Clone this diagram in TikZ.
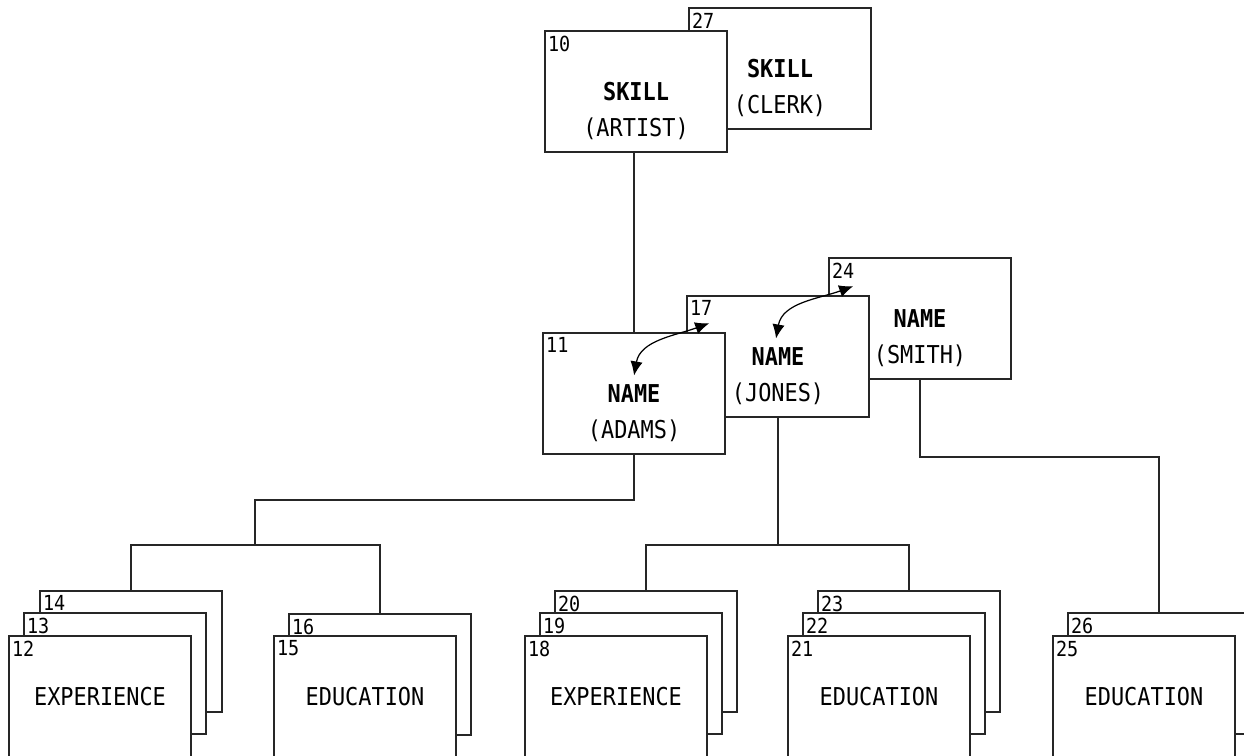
\documentclass[tikz,border=0pt]{standalone}
\usepackage{fontspec}
\setmonofont[FakeStretch=0.89]{DejaVu Sans Mono}
\usetikzlibrary{positioning,arrows.meta}
\newcommand{\boxfont}{\fontsize{14}{16}\selectfont\ttfamily}
\newcommand{\numfont}{\fontsize{11.8}{13}\selectfont\ttfamily}
\tikzset{
  rec/.style={draw=black!85, line width=0.9pt, fill=white, minimum width=3.64cm, minimum height=2.42cm, inner sep=0pt, font=\boxfont},
  num/.style={label={[anchor=north west, inner xsep=2pt, inner ysep=3pt, font=\numfont]north west:#1}},
  sub/.style={label={[anchor=base, yshift=0.32cm, inner sep=0pt, font=\boxfont]south:#1}},
  wire/.style={draw=black!85, line width=0.9pt},
  link/.style={<->, >={Latex[length=8pt,width=7pt]}, line width=0.7pt}
}

\begin{document}
\begin{tikzpicture}[x=0.02cm, y=0.02cm, on grid]
\useasboundingbox (0,0) rectangle (1244,755);

% skill records
\node[rec, num=27, sub={(CLERK)}]  (27) at (780,686.5) {\textbf{SKILL}};
\node[rec, num=10, sub={(ARTIST)}] (10) [below left=0.46cm and 2.88cm of 27] {\textbf{SKILL}};

% name records
\node[rec, num=24, sub={(SMITH)}] (24) at (920,436.5) {\textbf{NAME}};
\node[rec, num=17, sub={(JONES)}] (17) [below left=0.76cm and 2.84cm of 24] {\textbf{NAME}};
\node[rec, num=11, sub={(ADAMS)}] (11) [below left=0.74cm and 2.88cm of 17] {\textbf{NAME}};

% adams
\node[rec, num=14] (14) at (131,103.5) {};
\node[rec, num=13] (13) [below left=0.44cm and 0.32cm of 14] {};
\node[rec, num=12] (12) [below left=0.46cm and 0.3cm of 13] {EXPERIENCE};
\node[rec, num=16] (16) at (380,80.5) {};
\node[rec, num=15] (15) [below left=0.44cm and 0.3cm of 16] {EDUCATION};

% jones
\node[rec, num=20] (20) at (646,103.5) {};
\node[rec, num=19] (19) [below left=0.44cm and 0.3cm of 20] {};
\node[rec, num=18] (18) [below left=0.46cm and 0.3cm of 19] {EXPERIENCE};
\node[rec, num=23] (23) at (909,103.5) {};
\node[rec, num=22] (22) [below left=0.44cm and 0.3cm of 23] {};
\node[rec, num=21] (21) [below left=0.46cm and 0.3cm of 22] {EDUCATION};

% smith
\node[rec, num=26] (26) at (1159,81.5) {};
\node[rec, num=25] (25) [below left=0.46cm and 0.3cm of 26] {EDUCATION};

\coordinate (j1) at (255,210);
\coordinate (j2) at (17.south |- j1);
\draw[wire] (11.north) -- (11.north |- 10.south);
\draw[wire] (11.south) -- ++(0,-45) -| (j1);
\draw[wire] (14.north) |- (j1) -| (16.north);
\draw[wire] (17.south) -- (j2);
\draw[wire] (20.north) |- (j2) -| (23.north);
\draw[wire] (24.south) -- ++(0,-77) -| (26.north);

\draw[link] ([shift={(0,18)}]11.center) to[out=80,in=200] ([shift={(23,-28)}]17.north west);
\draw[link] ([shift={(-2,18)}]17.center) to[out=80,in=200] ([shift={(25,-29)}]24.north west);
\end{tikzpicture}
\end{document}
